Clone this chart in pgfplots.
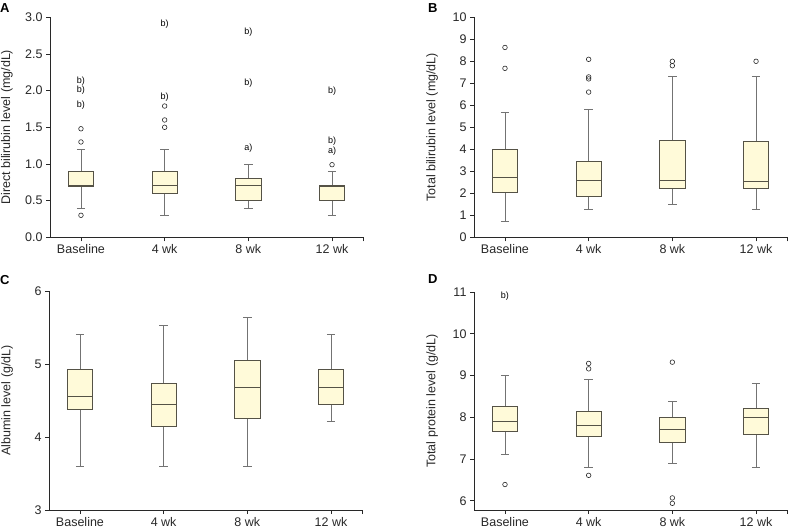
\documentclass[border=0pt]{standalone}
\usepackage{pgfplots}
\pgfplotsset{compat=1.18}
\usepgfplotslibrary{statistics}
\usepackage{fontspec}
\setmainfont{Liberation Sans}

\definecolor{boxfill}{RGB}{255,250,217}
\definecolor{boxedge}{RGB}{85,82,70}
\definecolor{whisk}{RGB}{115,115,115}
\definecolor{axc}{RGB}{40,40,40}

\tikzset{letter/.style={font=\fontsize{13}{15}\selectfont\bfseries, anchor=north west, inner sep=0pt}}

\pgfplotsset{
 panel/.style={
  scale only axis, width=313pt,
  xmin=-0.37, xmax=3.37,
  axis x line*=bottom, axis y line*=left,
  axis line style={axc, line width=0.8pt, -},
  tick style={axc, line width=0.8pt},
  tick align=outside, major tick length=4pt,
  xtick={0,1,2,3,3.37}, xticklabels={Baseline,4 wk,8 wk,12 wk,{}},
  tick label style={font=\fontsize{12.5}{14}\selectfont, text=axc},
  /pgf/number format/assume math mode=true,
  clip=false,
  boxplot/draw direction=y,
  boxplot/every box/.style={draw=boxedge, fill=boxfill, line width=0.8pt},
  boxplot/every median/.style={draw=boxedge, line width=1pt},
  boxplot/every whisker/.style={draw=whisk, line width=0.9pt},
 },
 ylab/.style={every axis y label/.style={at={(axis description cs:#1,0.5)}, rotate=90, anchor=center,
   inner sep=0pt, font=\fontsize{12.5}{14}\selectfont, text=axc}},
 bp/.style={boxplot prepared={#1, box extend=0.3, whisker extend=0.1}, draw=whisk},
 outl/.style={only marks, mark=o, mark size=2.3pt, mark options={draw=axc, line width=0.6pt}},
 txtmark/.style={only marks, mark=text, text mark={#1}, text mark as node=true,
   text mark style={font=\fontsize{9}{10}\selectfont, inner sep=0pt, text=black}},
}

\begin{document}
\begin{tikzpicture}
\useasboundingbox (0pt,0pt) rectangle (789pt,530pt);

% ---------------- A ----------------
\begin{axis}[panel, at={(50pt,292.7pt)}, anchor=south west, height=220pt,
  ymin=0, ymax=3, ytick={0,0.5,...,3},
  yticklabel style={/pgf/number format/.cd, fixed, fixed zerofill, precision=1},
  ylabel={Direct bilirubin level (mg/dL)}, ylab=-0.1374]
\addplot[bp={draw position=0, lower whisker=0.4, lower quartile=0.7, median=0.7, upper quartile=0.9, upper whisker=1.2}] coordinates {};
\addplot[bp={draw position=1, lower whisker=0.3, lower quartile=0.6, median=0.7, upper quartile=0.9, upper whisker=1.2}] coordinates {};
\addplot[bp={draw position=2, lower whisker=0.4, lower quartile=0.5, median=0.7, upper quartile=0.8, upper whisker=1.0}] coordinates {};
\addplot[bp={draw position=3, lower whisker=0.3, lower quartile=0.5, median=0.7, upper quartile=0.7, upper whisker=0.9}] coordinates {};
\addplot[outl] coordinates {(0,1.3) (0,1.48) (0,0.3) (1,1.79) (1,1.6) (1,1.5) (3,0.99)};
\addplot[txtmark={b)}] coordinates {(0,2.13) (0,2.0) (0,1.8) (1,2.9) (1,1.91) (2,2.8) (2,2.1) (3,1.99) (3,1.31)};
\addplot[txtmark={a)}] coordinates {(2,1.22) (3,1.17)};
\node[letter] at (axis description cs:-0.16,1.065) {A};
\end{axis}

% ---------------- B ----------------
\begin{axis}[panel, at={(474pt,292.7pt)}, anchor=south west, height=220pt,
  ymin=0, ymax=10, ytick={0,1,...,10},
  ylabel={Total bilirubin level (mg/dL)}, ylab=-0.134]
\addplot[bp={draw position=0, lower whisker=0.72, lower quartile=2.05, median=2.7, upper quartile=4.0, upper whisker=5.68}] coordinates {};
\addplot[bp={draw position=1, lower whisker=1.28, lower quartile=1.88, median=2.6, upper quartile=3.45, upper whisker=5.79}] coordinates {};
\addplot[bp={draw position=2, lower whisker=1.5, lower quartile=2.21, median=2.6, upper quartile=4.4, upper whisker=7.32}] coordinates {};
\addplot[bp={draw position=3, lower whisker=1.28, lower quartile=2.21, median=2.55, upper quartile=4.36, upper whisker=7.3}] coordinates {};
\addplot[outl] coordinates {(0,7.68) (0,8.63) (1,6.6) (1,7.2) (1,7.29) (1,8.09) (2,7.8) (2,8.0) (3,8.0)};
\node[letter] at (axis description cs:-0.147,1.065) {B};
\end{axis}

% ---------------- C ----------------
\begin{axis}[panel, at={(49pt,20pt)}, anchor=south west, height=219pt,
  ymin=3, ymax=6, ytick={3,4,5,6},
  ylabel={Albumin level (g/dL)}, ylab=-0.134]
\addplot[bp={draw position=0, lower whisker=3.6, lower quartile=4.38, median=4.55, upper quartile=4.92, upper whisker=5.4}] coordinates {};
\addplot[bp={draw position=1, lower whisker=3.6, lower quartile=4.14, median=4.44, upper quartile=4.74, upper whisker=5.53}] coordinates {};
\addplot[bp={draw position=2, lower whisker=3.6, lower quartile=4.26, median=4.68, upper quartile=5.05, upper whisker=5.64}] coordinates {};
\addplot[bp={draw position=3, lower whisker=4.21, lower quartile=4.44, median=4.68, upper quartile=4.92, upper whisker=5.41}] coordinates {};
\node[letter] at (axis description cs:-0.157,1.073) {C};
\end{axis}

% ---------------- D ----------------
\begin{axis}[panel, at={(474pt,20pt)}, anchor=south west, height=218pt,
  ymin=5.78, ymax=11, ytick={6,7,...,11},
  ylabel={Total protein level (g/dL)}, ylab=-0.134]
\addplot[bp={draw position=0, lower whisker=7.1, lower quartile=7.67, median=7.91, upper quartile=8.25, upper whisker=9.0}] coordinates {};
\addplot[bp={draw position=1, lower whisker=6.8, lower quartile=7.55, median=7.8, upper quartile=8.13, upper whisker=8.91}] coordinates {};
\addplot[bp={draw position=2, lower whisker=6.9, lower quartile=7.4, median=7.7, upper quartile=8.0, upper whisker=8.39}] coordinates {};
\addplot[bp={draw position=3, lower whisker=6.8, lower quartile=7.6, median=8.0, upper quartile=8.21, upper whisker=8.81}] coordinates {};
\addplot[outl] coordinates {(0,6.39) (1,9.16) (1,9.29) (1,6.61) (2,9.32) (2,6.07) (2,5.94)};
\addplot[txtmark={b)}] coordinates {(0,10.91)};
\node[letter] at (axis description cs:-0.147,1.083) {D};
\end{axis}
\end{tikzpicture}
\end{document}
